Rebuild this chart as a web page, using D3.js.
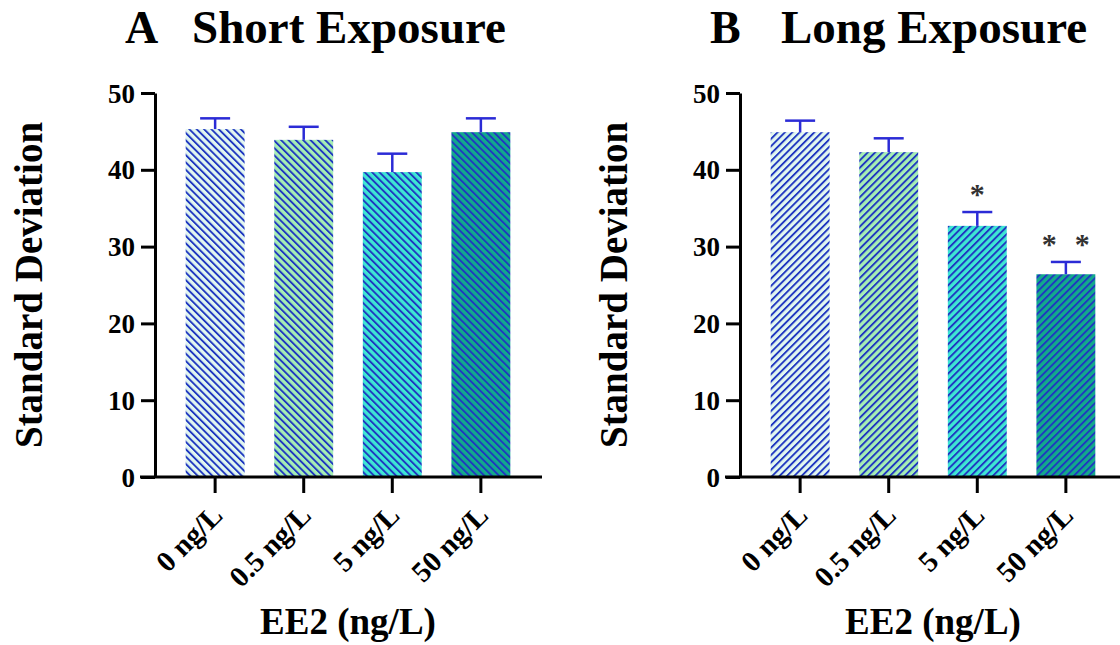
<!DOCTYPE html>
<html>
<head>
<meta charset="utf-8">
<script src="https://cdn.jsdelivr.net/npm/d3@7"></script>
<style>
  body { margin: 0; background: #fff; }
  text { font-family: "Liberation Serif", "Times New Roman", serif; font-weight: bold; }
</style>
</head>
<body>
<svg id="chart" width="1120" height="645"></svg>
<script>
// categories shared by both panels
const doses = ["0 ng/L", "0.5 ng/L", "5 ng/L", "50 ng/L"];
const yTicks = [0, 10, 20, 30, 40, 50];

// A - short exposure
const shortMeans = [45.3, 43.9, 39.7, 44.9];
const shortErr = [1.4, 1.7, 2.4, 1.8];
const shortStars = ["", "", "", ""];

// B - long exposure
const longMeans = [44.9, 42.3, 32.7, 26.4];
const longErr = [1.5, 1.8, 1.8, 1.6];
const longStars = ["", "", "*", "* *"];

const fills = ["#e2f7f0", "#a6eeb4", "#3ee6d4", "#12a98c"];
const stripe = "#1f37c0";
const errColor = "#2b2bd6";

const svg = d3.select("#chart");
const defs = svg.append("defs");

// striped patterns, one per bar colour and per direction
function makePattern(id, fill, angle) {
    let p = defs.append("pattern")
        .attr("id", id)
        .attr("patternUnits", "userSpaceOnUse")
        .attr("width", 5.2)
        .attr("height", 10)
        .attr("patternTransform", "rotate(" + angle + ")");
    p.append("rect").attr("width", 5.2).attr("height", 10).attr("fill", fill);
    p.append("rect").attr("x", 0).attr("width", 1.9).attr("height", 10).attr("fill", stripe);
}
fills.forEach((f, i) => {
    makePattern("pa" + i, f, -45);
    makePattern("pb" + i, f, 45);
});

function drawPanel(ox, letter, title, means, errs, stars, pat) {
    let g = svg.append("g").attr("transform", "translate(" + ox + ",0)");

    let y = d3.scaleLinear().domain([0, 50]).range([477, 93]);
    let x = d3.scaleBand().domain(doses).range([156, 540]).padding(0.335);

    // bars
    g.selectAll(".bar")
        .data(means)
        .enter()
        .append("rect")
        .attr("x", (d, i) => x(doses[i]))
        .attr("y", d => y(d))
        .attr("width", x.bandwidth())
        .attr("height", d => y(0) - y(d))
        .attr("fill", (d, i) => "url(#" + pat + i + ")");

    // error bars (upper only)
    let cap = 15;
    means.forEach((m, i) => {
        let cx = x(doses[i]) + x.bandwidth() / 2;
        g.append("line")
            .attr("x1", cx).attr("x2", cx)
            .attr("y1", y(m)).attr("y2", y(m + errs[i]))
            .attr("stroke", errColor).attr("stroke-width", 2.5);
        g.append("line")
            .attr("x1", cx - cap).attr("x2", cx + cap)
            .attr("y1", y(m + errs[i])).attr("y2", y(m + errs[i]))
            .attr("stroke", errColor).attr("stroke-width", 2.5);
        if (stars[i]) {
            let parts = stars[i].split(" ");
            parts.forEach((s, j) => {
                let off = (j - (parts.length - 1) / 2) * 33;
                g.append("text")
                    .attr("x", cx + off)
                    .attr("y", y(m + errs[i]) - 8)
                    .attr("text-anchor", "middle")
                    .attr("font-size", "30px")
                    .attr("fill", "#333")
                    .text(s);
            });
        }
    });

    // y axis
    let yAxis = g.append("g")
        .attr("transform", "translate(155,0)")
        .call(d3.axisLeft(y).tickValues(yTicks).tickSize(14).tickSizeOuter(0).tickPadding(6));
    yAxis.select(".domain").attr("stroke", "#000").attr("stroke-width", 3);
    yAxis.selectAll(".tick line").attr("stroke", "#000").attr("stroke-width", 3);
    yAxis.selectAll(".tick text")
        .attr("font-size", "27px")
        .attr("font-family", "Liberation Serif")
        .attr("font-weight", "bold")
        .attr("fill", "#000")
        .attr("dy", "0.34em");

    // x axis
    let xAxis = g.append("g")
        .attr("transform", "translate(0,477)")
        .call(d3.axisBottom(x).tickSize(16).tickSizeOuter(0));
    xAxis.select(".domain").remove();
    xAxis.append("line")
        .attr("x1", 140).attr("x2", 542)
        .attr("stroke", "#000").attr("stroke-width", 3);
    xAxis.selectAll(".tick line").attr("stroke", "#000").attr("stroke-width", 3);
    xAxis.selectAll(".tick text")
        .attr("font-size", "29px")
        .attr("font-family", "Liberation Serif")
        .attr("font-weight", "bold")
        .attr("fill", "#000")
        .attr("text-anchor", "end")
        .attr("dy", 0)
        .attr("transform", "translate(9,40) rotate(-45)")
        .attr("y", 0);

    // y label
    g.append("text")
        .attr("transform", "translate(42,285) rotate(-90)")
        .attr("text-anchor", "middle")
        .attr("font-size", "39px")
        .text("Standard Deviation");

    // x label
    g.append("text")
        .attr("x", 348)
        .attr("y", 634)
        .attr("text-anchor", "middle")
        .attr("font-size", "37px")
        .text("EE2 (ng/L)");

    // panel title
    g.append("text")
        .attr("x", 125)
        .attr("y", 43)
        .attr("font-size", "46px")
        .text(letter);
    g.append("text")
        .attr("x", 349)
        .attr("y", 43)
        .attr("text-anchor", "middle")
        .attr("font-size", "47px")
        .text(title);
}

drawPanel(0, "A", "Short Exposure", shortMeans, shortErr, shortStars, "pa");
drawPanel(585, "B", "Long Exposure", longMeans, longErr, longStars, "pb");
</script>
</body>
</html>
